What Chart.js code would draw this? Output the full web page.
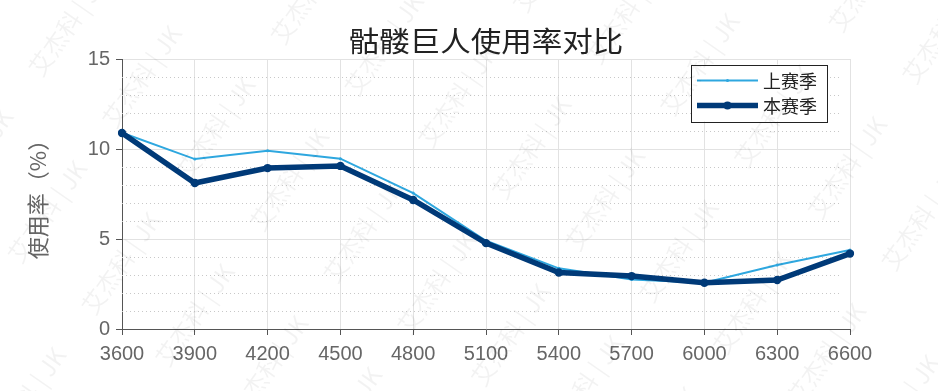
<!DOCTYPE html>
<html>
<head>
<meta charset="utf-8">
<script src="https://cdn.jsdelivr.net/npm/chart.js@4/dist/chart.umd.min.js"></script>
<style>
  html, body { margin: 0; padding: 0; background: #fff; }
  #wrap { width: 938px; height: 391px; }
</style>
</head>
<body>
<div id="wrap"><canvas id="usage" width="938" height="391"></canvas></div>
<script>
// x categories (mmr ranges)
const categories = ['3600', '3900', '4200', '4500', '4800', '5100', '5400', '5700', '6000', '6300', '6600'];
// usage rate in %
const lastSeason = [10.9, 9.44, 9.9, 9.46, 7.55, 4.9, 3.37, 2.75, 2.57, 3.55, 4.39];
const thisSeason = [10.89, 8.11, 8.94, 9.06, 7.17, 4.77, 3.14, 2.94, 2.57, 2.72, 4.19];
const seriesNames = ['上赛季', '本赛季'];
const chartTitle = '骷髅巨人使用率对比';
const yTitle = '使用率（%）';
const watermark = '艾杰科 | JK';

const lightBlue = '#2ea7df';
const darkBlue = '#003a78';
const cjkFont = '"Noto Sans CJK SC", "Noto Sans", sans-serif';
const numFont = '"Liberation Sans", Arial, sans-serif';

// title centred over the plot area (not the whole canvas)
const plotTitle = {
    id: 'plotTitle',
    afterDraw(chart) {
        const ctx = chart.ctx;
        const area = chart.chartArea;
        ctx.save();
        ctx.fillStyle = '#222';
        ctx.font = '28px ' + cjkFont;
        ctx.textAlign = 'center';
        ctx.textBaseline = 'middle';
        ctx.translate((area.left + area.right) / 2, 41);
        ctx.scale(1.09, 1);
        ctx.fillText(chartTitle, 0, 0);
        ctx.restore();
    }
};

// dotted minor grid lines, every 1 unit on y
const minorGrid = {
    id: 'minorGrid',
    beforeDatasetsDraw(chart) {
        const ctx = chart.ctx;
        const y = chart.scales.y;
        const area = chart.chartArea;
        ctx.save();
        ctx.strokeStyle = '#c8c8c8';
        ctx.lineWidth = 1;
        ctx.setLineDash([1, 3]);
        for (let v = 1; v < 15; v++) {
            if (v % 5 === 0) continue;
            const py = Math.round(y.getPixelForValue(v)) + 0.5;
            ctx.beginPath();
            ctx.moveTo(area.left, py);
            ctx.lineTo(area.right - 11, py);
            ctx.stroke();
        }
        ctx.restore();
    }
};

// boxed legend in the top right corner of the plot
const boxLegend = {
    id: 'boxLegend',
    afterDraw(chart) {
        const ctx = chart.ctx;
        const area = chart.chartArea;
        const right = area.right - 23;
        const left = right - 136;
        const top = area.top + 5.5;
        const height = 57;
        ctx.save();
        ctx.fillStyle = '#fff';
        ctx.fillRect(left, top, right - left, height);
        ctx.strokeStyle = '#222';
        ctx.lineWidth = 1;
        ctx.strokeRect(Math.round(left) + 0.5, Math.round(top) + 0.5, right - left, height);

        const styles = [
            { color: lightBlue, width: 2, r: 1.5 },
            { color: darkBlue, width: 5.5, r: 4 }
        ];
        const rowsY = [top + 16, top + 41];
        for (let i = 0; i < 2; i++) {
            const s = styles[i];
            ctx.strokeStyle = s.color;
            ctx.lineWidth = s.width;
            ctx.beginPath();
            ctx.moveTo(left + 6, rowsY[i]);
            ctx.lineTo(left + 67, rowsY[i]);
            ctx.stroke();
            ctx.fillStyle = s.color;
            ctx.beginPath();
            ctx.arc(left + 36.5, rowsY[i], s.r, 0, Math.PI * 2);
            ctx.fill();
            ctx.fillStyle = '#222';
            ctx.font = '18px ' + cjkFont;
            ctx.textBaseline = 'middle';
            ctx.textAlign = 'left';
            ctx.fillText(seriesNames[i], left + 72, rowsY[i] + 1);
        }
        ctx.restore();
    }
};

// faint diagonal watermark across the whole picture
const watermarkText = {
    id: 'watermarkText',
    afterDraw(chart) {
        const ctx = chart.ctx;
        ctx.save();
        ctx.fillStyle = 'rgba(0, 0, 0, 0.05)';
        ctx.font = '24px ' + cjkFont;
        ctx.textBaseline = 'middle';
        ctx.rotate(-55 * Math.PI / 180);
        for (let a = -700; a < 900; a += 165) {
            for (let b = -200; b < 1200; b += 90) {
                ctx.fillText(watermark, a, b);
            }
        }
        ctx.restore();
    }
};

const whiteBg = {
    id: 'whiteBg',
    beforeDraw(chart) {
        const ctx = chart.ctx;
        ctx.save();
        ctx.fillStyle = '#fff';
        ctx.fillRect(0, 0, chart.width, chart.height);
        ctx.restore();
    }
};

new Chart(document.getElementById('usage'), {
    type: 'line',
    data: {
        labels: categories,
        datasets: [
            {
                label: seriesNames[0],
                data: lastSeason,
                borderColor: lightBlue,
                backgroundColor: lightBlue,
                borderWidth: 2,
                pointRadius: 1.5,
                pointBorderWidth: 0,
                tension: 0,
                order: 1
            },
            {
                label: seriesNames[1],
                data: thisSeason,
                borderColor: darkBlue,
                backgroundColor: darkBlue,
                borderWidth: 5.5,
                pointRadius: 4.2,
                pointBorderWidth: 0,
                tension: 0,
                order: 0
            }
        ]
    },
    options: {
        responsive: false,
        animation: false,
        layout: { padding: { left: 0, right: 88, top: 59, bottom: 0 } },
        plugins: {
            legend: { display: false },
            tooltip: { enabled: false },
            title: { display: false }
        },
        scales: {
            x: {
                afterFit(scale) { scale.height = 62; },
                ticks: {
                    color: '#666',
                    font: { family: numFont, size: 20 },
                    padding: 7,
                    maxRotation: 0,
                    autoSkip: false
                },
                grid: {
                    color: '#e2e2e2',
                    tickColor: '#555',
                    tickLength: 6
                },
                border: { color: '#555', width: 1 }
            },
            y: {
                min: 0,
                max: 15,
                afterFit(scale) { scale.width = 122; },
                ticks: {
                    stepSize: 1,
                    autoSkip: false,
                    color: '#666',
                    font: { family: numFont, size: 20 },
                    padding: 6,
                    callback: (v) => (v % 5 === 0 ? v : '')
                },
                grid: {
                    color: (c) => (c.tick && c.tick.value % 5 === 0 ? '#e2e2e2' : 'rgba(0,0,0,0)'),
                    tickColor: (c) => (c.tick && c.tick.value % 5 === 0 ? '#555' : 'rgba(0,0,0,0)'),
                    tickLength: 6
                },
                border: { color: '#555', width: 1 },
                title: {
                    display: true,
                    text: yTitle,
                    color: '#666',
                    font: { family: cjkFont, size: 22 },
                    padding: { top: 24, bottom: 0 }
                }
            }
        }
    },
    plugins: [whiteBg, minorGrid, boxLegend, plotTitle, watermarkText]
});
</script>
</body>
</html>
